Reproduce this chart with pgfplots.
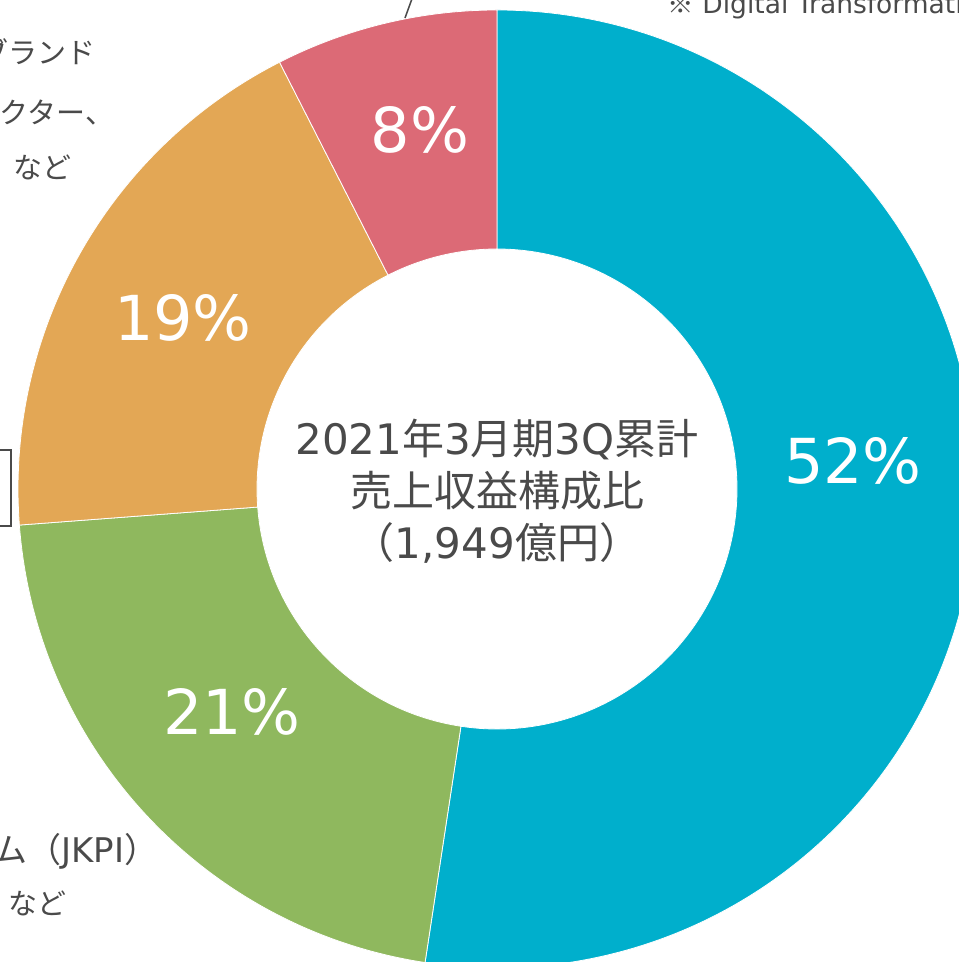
\documentclass[border=0pt]{standalone}
\usepackage{pgfplots}
\pgfplotsset{compat=1.18}
\usepackage{pgfplotstable}
\usepackage{fontspec}
\setmainfont{DejaVu Sans}
\newfontfamily\jp{Noto Sans CJK JP}
\newfontfamily\dv{DejaVu Sans}

\definecolor{cBlue}{HTML}{00AFCC}
\definecolor{cGreen}{HTML}{8FB85E}
\definecolor{cOrange}{HTML}{E3A755}
\definecolor{cRed}{HTML}{DC6A76}
\definecolor{txt}{HTML}{4A4A4A}
\colorlet{slice0}{cBlue}
\colorlet{slice1}{cGreen}
\colorlet{slice2}{cOrange}
\colorlet{slice3}{cRed}

% revenue share (%), clockwise from 12 o'clock
\pgfplotstableread{
share
52.4
21.4
18.7
7.5
}\shares

\begin{document}
\begin{tikzpicture}
% start/end angles of each slice from the cumulative shares
\pgfplotstablegetrowsof{\shares}
\pgfmathtruncatemacro{\nrows}{\pgfplotsretval-1}
\gdef\cum{0}
\foreach \i in {0,...,\nrows}{
  \pgfplotstablegetelem{\i}{share}\of\shares
  \let\v\pgfplotsretval
  \pgfmathsetmacro{\a}{90-3.6*\cum}
  \pgfmathsetmacro{\b}{90-3.6*(\cum+\v)}
  \expandafter\xdef\csname sa\i\endcsname{\a}
  \expandafter\xdef\csname sb\i\endcsname{\b}
  \pgfmathsetmacro{\c}{\cum+\v}
  \xdef\cum{\c}
}
\begin{axis}[
  width=959bp,height=962bp,scale only axis,
  xmin=0,xmax=959,ymin=0,ymax=962,
  hide axis,clip=false,
]
\coordinate (O) at (axis cs:497,473);
\coordinate (bl) at (axis cs:0,0);
\coordinate (tr) at (axis cs:959,962);
% donut slices
\pgfplotsinvokeforeach{0,...,3}{
  \fill[slice#1,draw=white,line width=0.8bp]
    ([shift={(\csname sa#1\endcsname:479bp)}]O)
    arc[start angle=\csname sa#1\endcsname,end angle=\csname sb#1\endcsname,radius=479bp]
    -- ([shift={(\csname sb#1\endcsname:240bp)}]O)
    arc[start angle=\csname sb#1\endcsname,end angle=\csname sa#1\endcsname,radius=240bp]
    -- cycle;
}
% percentages
\node[text=white,font=\dv\fontsize{62bp}{68bp}\selectfont] at (axis cs:853,501) {52\%};
\node[text=white,font=\dv\fontsize{62bp}{68bp}\selectfont] at (axis cs:232,250) {21\%};
\node[text=white,font=\dv\fontsize{62bp}{68bp}\selectfont] at (axis cs:183,644) {19\%};
\node[text=white,font=\dv\fontsize{62bp}{68bp}\selectfont] at (axis cs:420,832) {8\%};
% centre title
\node[text=txt,align=center,font=\fontsize{42bp}{52bp}\selectfont] at (axis cs:497,471)
  {{\dv 2021}{\jp 年}{\dv 3}{\jp 月期}{\dv 3Q}{\jp 累計}\\
   {\jp 売上収益構成比}\\
   {\jp （}{\dv 1,949}{\jp 億円）}};
% cut-off annotations round the chart
\node[text=txt,anchor=base west,font=\fontsize{26.5bp}{30bp}\selectfont] at (axis cs:664,948)
  {{\jp ※} Digital Transformation};
\draw[txt,line width=1.5bp] (axis cs:405,944) -- (axis cs:413,966);
\node[text=txt,anchor=east,font=\jp\fontsize{29bp}{32bp}\selectfont] at (axis cs:99,910) {ブランド};
\node[text=txt,anchor=east,font=\jp\fontsize{29bp}{32bp}\selectfont] at (axis cs:118,849) {エクター、};
\node[text=txt,font=\jp\fontsize{29bp}{32bp}\selectfont] at (axis cs:43,795) {など};
\draw[txt,line width=2bp] (axis cs:-40,512) rectangle (axis cs:11,436);
\node[text=txt,anchor=west,font=\fontsize{34bp}{36bp}\selectfont] at (axis cs:-10,111)
  {{\jp ム（}JKPI{\jp ）}};
\node[text=txt,font=\jp\fontsize{29bp}{32bp}\selectfont] at (axis cs:38,59) {など};
\end{axis}
\pgfresetboundingbox
\path[use as bounding box] (bl) rectangle (tr);
\end{tikzpicture}
\end{document}
